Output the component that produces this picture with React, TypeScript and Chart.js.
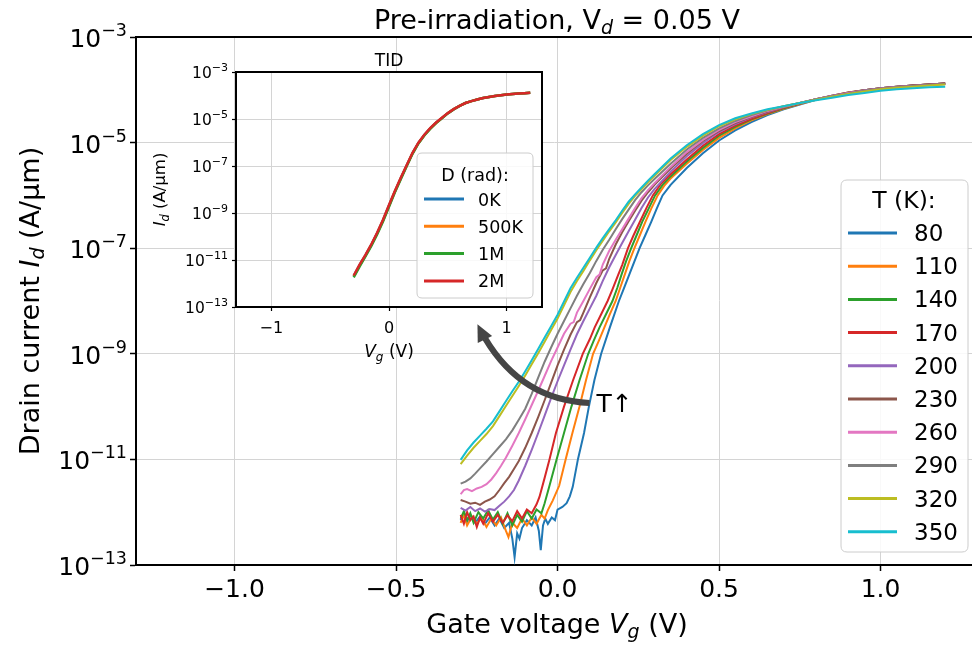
import React, { useEffect, useRef } from 'react';
import { Chart, registerables } from 'chart.js';
Chart.register(...registerables);

// ---------------- data (Vg in V, log10 of Id in A/µm) ----------------
const TEMPS = ['80', '110', '140', '170', '200', '230', '260', '290', '320', '350'];
const T_COLORS = ['#1f77b4', '#ff7f0e', '#2ca02c', '#d62728', '#9467bd', '#8c564b', '#e377c2', '#7f7f7f', '#bcbd22', '#17becf'];

const T80 = [[-0.30,-12.15],[-0.29,-12.02],[-0.28,-12.18],[-0.27,-12.05],[-0.255,-12.20],[-0.24,-12.08],[-0.225,-12.22],[-0.21,-12.10],[-0.195,-12.25],[-0.18,-12.12],[-0.165,-12.30],[-0.15,-12.20],[-0.14,-12.50],[-0.133,-12.85],[-0.125,-12.40],[-0.118,-12.50],[-0.11,-12.30],[-0.095,-12.15],[-0.08,-12.25],[-0.068,-12.10],[-0.058,-12.35],[-0.052,-12.72],[-0.045,-12.25],[-0.038,-12.12],[-0.03,-12.22],[-0.018,-12.10],[-0.008,-12.15],[0.00,-11.95],[0.015,-11.90],[0.028,-11.83],[0.038,-11.70],[0.047,-11.52],[0.063,-11.00],[0.082,-10.50],[0.097,-10.00],[0.114,-9.50],[0.135,-9.00],[0.162,-8.50],[0.19,-8.00],[0.206,-7.75],[0.222,-7.50],[0.238,-7.25],[0.254,-7.00],[0.272,-6.75],[0.29,-6.50],[0.307,-6.25],[0.325,-6.00],[0.35,-5.80],[0.40,-5.48],[0.45,-5.20],[0.50,-4.96],[0.55,-4.77],[0.60,-4.61],[0.65,-4.48],[0.70,-4.37],[0.75,-4.28],[0.80,-4.19],[0.85,-4.12],[0.90,-4.06],[0.95,-4.01],[1.00,-3.97],[1.05,-3.94],[1.10,-3.92],[1.15,-3.90],[1.20,-3.88]];
const T110 = [[-0.30,-12.20],[-0.29,-12.05],[-0.28,-12.25],[-0.265,-12.08],[-0.25,-12.22],[-0.235,-12.10],[-0.22,-12.28],[-0.205,-12.12],[-0.19,-12.25],[-0.175,-12.10],[-0.16,-12.35],[-0.152,-12.47],[-0.14,-12.20],[-0.125,-12.30],[-0.11,-12.12],[-0.095,-12.25],[-0.08,-12.10],[-0.065,-12.22],[-0.05,-12.05],[-0.04,-12.12],[-0.03,-11.96],[-0.015,-11.78],[0.005,-11.50],[0.025,-11.00],[0.046,-10.50],[0.068,-10.00],[0.088,-9.50],[0.11,-9.00],[0.128,-8.75],[0.145,-8.50],[0.162,-8.25],[0.18,-8.00],[0.194,-7.75],[0.208,-7.50],[0.222,-7.25],[0.238,-7.00],[0.255,-6.75],[0.272,-6.50],[0.29,-6.25],[0.31,-6.00],[0.33,-5.82],[0.35,-5.68],[0.40,-5.40],[0.45,-5.14],[0.50,-4.91],[0.55,-4.73],[0.60,-4.58],[0.65,-4.46],[0.70,-4.36],[0.75,-4.27],[0.80,-4.19],[0.85,-4.12],[0.90,-4.06],[0.95,-4.01],[1.00,-3.97],[1.05,-3.94],[1.10,-3.92],[1.15,-3.90],[1.20,-3.88]];
const T140 = [[-0.30,-12.12],[-0.29,-11.98],[-0.28,-12.15],[-0.27,-12.02],[-0.26,-12.20],[-0.245,-12.00],[-0.23,-12.12],[-0.215,-11.96],[-0.20,-12.14],[-0.185,-12.00],[-0.17,-12.22],[-0.155,-12.02],[-0.14,-12.25],[-0.125,-12.05],[-0.11,-12.18],[-0.095,-11.98],[-0.08,-12.12],[-0.065,-11.95],[-0.05,-12.02],[-0.04,-11.83],[-0.025,-11.50],[-0.003,-11.00],[0.02,-10.50],[0.043,-10.00],[0.068,-9.50],[0.095,-9.00],[0.112,-8.75],[0.13,-8.50],[0.15,-8.25],[0.17,-8.00],[0.185,-7.75],[0.198,-7.50],[0.212,-7.25],[0.228,-7.00],[0.245,-6.75],[0.262,-6.50],[0.282,-6.25],[0.302,-6.00],[0.325,-5.80],[0.35,-5.64],[0.40,-5.36],[0.45,-5.10],[0.50,-4.87],[0.55,-4.70],[0.60,-4.56],[0.65,-4.45],[0.70,-4.35],[0.75,-4.26],[0.80,-4.18],[0.85,-4.11],[0.90,-4.05],[0.95,-4.01],[1.00,-3.97],[1.05,-3.94],[1.10,-3.92],[1.15,-3.90],[1.20,-3.88]];
const T170 = [[-0.30,-12.05],[-0.29,-12.22],[-0.28,-12.00],[-0.27,-12.15],[-0.26,-12.08],[-0.25,-12.28],[-0.24,-12.10],[-0.23,-12.22],[-0.215,-12.02],[-0.20,-12.18],[-0.185,-12.05],[-0.17,-12.20],[-0.155,-12.06],[-0.14,-12.17],[-0.125,-11.98],[-0.11,-12.12],[-0.095,-11.95],[-0.08,-12.02],[-0.065,-11.85],[-0.056,-11.71],[-0.04,-11.35],[-0.025,-11.00],[-0.005,-10.50],[0.02,-10.00],[0.048,-9.50],[0.078,-9.00],[0.10,-8.72],[0.115,-8.50],[0.135,-8.25],[0.155,-8.00],[0.17,-7.78],[0.188,-7.50],[0.20,-7.32],[0.218,-7.00],[0.235,-6.76],[0.255,-6.50],[0.275,-6.24],[0.295,-6.00],[0.32,-5.78],[0.35,-5.60],[0.40,-5.32],[0.45,-5.06],[0.50,-4.84],[0.55,-4.68],[0.60,-4.55],[0.65,-4.44],[0.70,-4.34],[0.75,-4.26],[0.80,-4.18],[0.85,-4.11],[0.90,-4.05],[0.95,-4.01],[1.00,-3.97],[1.05,-3.94],[1.10,-3.92],[1.15,-3.90],[1.20,-3.88]];
const T200 = [[-0.30,-11.92],[-0.285,-11.97],[-0.27,-11.90],[-0.255,-11.98],[-0.24,-11.93],[-0.225,-11.99],[-0.21,-11.94],[-0.195,-11.96],[-0.18,-11.88],[-0.165,-11.80],[-0.15,-11.70],[-0.135,-11.58],[-0.12,-11.40],[-0.10,-11.12],[-0.08,-10.82],[-0.06,-10.50],[-0.04,-10.17],[-0.02,-9.84],[0.00,-9.52],[0.02,-9.22],[0.04,-8.92],[0.06,-8.63],[0.08,-8.38],[0.10,-8.14],[0.12,-7.90],[0.14,-7.62],[0.16,-7.36],[0.18,-7.13],[0.20,-6.90],[0.22,-6.68],[0.24,-6.46],[0.26,-6.24],[0.28,-6.04],[0.30,-5.88],[0.35,-5.55],[0.40,-5.26],[0.45,-5.01],[0.50,-4.80],[0.55,-4.65],[0.60,-4.52],[0.65,-4.42],[0.70,-4.33],[0.75,-4.25],[0.80,-4.18],[0.85,-4.11],[0.90,-4.06],[0.95,-4.01],[1.00,-3.97],[1.05,-3.94],[1.10,-3.92],[1.15,-3.90],[1.20,-3.88]];
const T230 = [[-0.30,-11.77],[-0.285,-11.80],[-0.27,-11.84],[-0.255,-11.82],[-0.24,-11.86],[-0.225,-11.80],[-0.21,-11.76],[-0.195,-11.70],[-0.18,-11.58],[-0.165,-11.45],[-0.15,-11.33],[-0.135,-11.18],[-0.12,-11.03],[-0.10,-10.78],[-0.08,-10.50],[-0.06,-10.20],[-0.04,-9.88],[-0.02,-9.55],[0.00,-9.22],[0.02,-8.92],[0.04,-8.64],[0.06,-8.40],[0.07,-8.36],[0.08,-8.22],[0.10,-7.93],[0.12,-7.66],[0.14,-7.42],[0.15,-7.38],[0.16,-7.20],[0.18,-6.93],[0.20,-6.70],[0.22,-6.49],[0.24,-6.29],[0.26,-6.10],[0.28,-5.94],[0.30,-5.80],[0.35,-5.49],[0.40,-5.21],[0.45,-4.97],[0.50,-4.78],[0.55,-4.63],[0.60,-4.51],[0.65,-4.41],[0.70,-4.33],[0.75,-4.25],[0.80,-4.18],[0.85,-4.12],[0.90,-4.06],[0.95,-4.02],[1.00,-3.98],[1.05,-3.95],[1.10,-3.92],[1.15,-3.90],[1.20,-3.88]];
const T260 = [[-0.30,-11.66],[-0.29,-11.58],[-0.28,-11.56],[-0.265,-11.60],[-0.25,-11.55],[-0.235,-11.52],[-0.22,-11.47],[-0.205,-11.38],[-0.19,-11.26],[-0.175,-11.12],[-0.16,-10.97],[-0.14,-10.74],[-0.12,-10.50],[-0.10,-10.24],[-0.08,-9.97],[-0.06,-9.70],[-0.04,-9.42],[-0.02,-9.14],[0.00,-8.88],[0.02,-8.62],[0.04,-8.43],[0.05,-8.40],[0.06,-8.22],[0.08,-8.00],[0.10,-7.77],[0.12,-7.55],[0.13,-7.50],[0.14,-7.31],[0.16,-7.05],[0.18,-6.84],[0.20,-6.64],[0.22,-6.44],[0.24,-6.24],[0.26,-6.05],[0.28,-5.90],[0.30,-5.77],[0.35,-5.46],[0.40,-5.18],[0.45,-4.95],[0.50,-4.76],[0.55,-4.61],[0.60,-4.50],[0.65,-4.40],[0.70,-4.32],[0.75,-4.25],[0.80,-4.18],[0.85,-4.12],[0.90,-4.06],[0.95,-4.02],[1.00,-3.98],[1.05,-3.95],[1.10,-3.93],[1.15,-3.91],[1.20,-3.89]];
const T290 = [[-0.30,-11.46],[-0.285,-11.42],[-0.27,-11.36],[-0.255,-11.27],[-0.24,-11.17],[-0.22,-11.04],[-0.20,-10.90],[-0.18,-10.76],[-0.16,-10.62],[-0.14,-10.45],[-0.12,-10.25],[-0.10,-10.04],[-0.08,-9.76],[-0.06,-9.45],[-0.04,-9.15],[-0.02,-8.88],[0.00,-8.62],[0.02,-8.38],[0.04,-8.14],[0.06,-7.90],[0.08,-7.68],[0.10,-7.47],[0.12,-7.24],[0.14,-7.03],[0.16,-6.84],[0.18,-6.64],[0.20,-6.45],[0.22,-6.27],[0.24,-6.09],[0.26,-5.94],[0.28,-5.81],[0.30,-5.69],[0.35,-5.40],[0.40,-5.13],[0.45,-4.91],[0.50,-4.73],[0.55,-4.59],[0.60,-4.48],[0.65,-4.39],[0.70,-4.31],[0.75,-4.25],[0.80,-4.18],[0.85,-4.12],[0.90,-4.07],[0.95,-4.02],[1.00,-3.98],[1.05,-3.95],[1.10,-3.93],[1.15,-3.91],[1.20,-3.89]];
const T320 = [[-0.30,-11.09],[-0.28,-10.93],[-0.26,-10.78],[-0.24,-10.65],[-0.22,-10.52],[-0.20,-10.37],[-0.18,-10.18],[-0.16,-9.99],[-0.14,-9.80],[-0.12,-9.61],[-0.10,-9.41],[-0.08,-9.20],[-0.06,-8.99],[-0.04,-8.77],[-0.02,-8.55],[0.00,-8.33],[0.02,-8.08],[0.04,-7.83],[0.06,-7.62],[0.08,-7.43],[0.10,-7.23],[0.12,-7.04],[0.14,-6.86],[0.16,-6.68],[0.18,-6.51],[0.20,-6.33],[0.22,-6.16],[0.24,-6.01],[0.26,-5.88],[0.28,-5.75],[0.30,-5.63],[0.35,-5.33],[0.40,-5.08],[0.45,-4.87],[0.50,-4.69],[0.55,-4.56],[0.60,-4.46],[0.65,-4.38],[0.70,-4.31],[0.75,-4.25],[0.80,-4.19],[0.85,-4.13],[0.90,-4.08],[0.95,-4.03],[1.00,-3.99],[1.05,-3.96],[1.10,-3.94],[1.15,-3.92],[1.20,-3.90]];
const T350 = [[-0.30,-11.01],[-0.28,-10.83],[-0.26,-10.68],[-0.24,-10.55],[-0.22,-10.42],[-0.20,-10.28],[-0.18,-10.09],[-0.16,-9.90],[-0.14,-9.71],[-0.12,-9.53],[-0.10,-9.33],[-0.08,-9.12],[-0.06,-8.91],[-0.04,-8.69],[-0.02,-8.48],[0.00,-8.26],[0.02,-8.01],[0.04,-7.76],[0.06,-7.56],[0.08,-7.37],[0.10,-7.18],[0.12,-6.99],[0.14,-6.81],[0.16,-6.64],[0.18,-6.47],[0.20,-6.29],[0.22,-6.12],[0.24,-5.98],[0.26,-5.85],[0.28,-5.72],[0.30,-5.60],[0.35,-5.30],[0.40,-5.05],[0.45,-4.84],[0.50,-4.67],[0.55,-4.54],[0.60,-4.45],[0.65,-4.37],[0.70,-4.31],[0.75,-4.25],[0.80,-4.20],[0.85,-4.15],[0.90,-4.10],[0.95,-4.06],[1.00,-4.02],[1.05,-3.99],[1.10,-3.97],[1.15,-3.95],[1.20,-3.94]];
const MAIN_SERIES = [T80, T110, T140, T170, T200, T230, T260, T290, T320, T350];

const X_TICKS = [-1, -0.5, 0, 0.5, 1];
const X_TICK_LABELS = ['\u22121.0', '\u22120.5', '0.0', '0.5', '1.0'];
const Y_TICKS = [1e-3, 1e-5, 1e-7, 1e-9, 1e-11, 1e-13];
const Y_TICK_EXPS = ['\u22123', '\u22125', '\u22127', '\u22129', '\u221211', '\u221213'];

// inset (TID)
const DOSES = ['0K', '500K', '1M', '2M'];
const D_COLORS = ['#1f77b4', '#ff7f0e', '#2ca02c', '#d62728'];
const INSET_VG = [-0.30,-0.25,-0.20,-0.15,-0.10,-0.05,0.00,0.05,0.10,0.15,0.20,0.25,0.30,0.35,0.40,0.45,0.50,0.55,0.60,0.65,0.70,0.75,0.80,0.85,0.90,0.95,1.00,1.05,1.10,1.15,1.20];
const INSET_0K = [-11.68,-11.22,-10.80,-10.35,-9.85,-9.30,-8.68,-8.08,-7.52,-6.98,-6.45,-6.02,-5.68,-5.40,-5.16,-4.96,-4.75,-4.58,-4.44,-4.32,-4.24,-4.17,-4.11,-4.06,-4.02,-3.99,-3.96,-3.94,-3.92,-3.90,-3.88];
const INSET_500K = [-11.70,-11.24,-10.81,-10.36,-9.86,-9.31,-8.70,-8.09,-7.53,-6.99,-6.46,-6.03,-5.69,-5.41,-5.17,-4.96,-4.75,-4.58,-4.44,-4.32,-4.24,-4.17,-4.11,-4.06,-4.02,-3.99,-3.96,-3.94,-3.92,-3.90,-3.88];
const INSET_1M = [-11.74,-11.28,-10.85,-10.40,-9.90,-9.35,-8.74,-8.12,-7.56,-7.01,-6.48,-6.04,-5.70,-5.42,-5.17,-4.97,-4.76,-4.59,-4.44,-4.32,-4.24,-4.17,-4.11,-4.06,-4.02,-3.99,-3.96,-3.94,-3.92,-3.90,-3.88];
const INSET_2M = [-11.66,-11.20,-10.78,-10.33,-9.83,-9.28,-8.66,-8.06,-7.50,-6.97,-6.44,-6.01,-5.67,-5.39,-5.15,-4.95,-4.75,-4.58,-4.44,-4.32,-4.24,-4.17,-4.11,-4.06,-4.02,-3.99,-3.96,-3.94,-3.92,-3.90,-3.88];
const INSET_SERIES = [INSET_0K, INSET_500K, INSET_1M, INSET_2M];
const INSET_X_TICKS = [-1, 0, 1];
const INSET_X_LABELS = ['\u22121', '0', '1'];

// annotation (data coordinates: Vg, log10 Id)
const ARROW_TAIL = [0.099, -9.93];
const ARROW_CTRL = [-0.133, -9.875];
const ARROW_HEAD = [-0.248, -8.44];

// ---------------- drawing helpers ----------------
const FAMILY = '"DejaVu Sans", "Noto Sans", sans-serif';
type Part = { t: string; size: number; italic?: boolean; dy?: number };
const fontOf = (p: Part) => `${p.italic ? 'italic ' : ''}${p.size}px ${FAMILY}`;

function drawRich(ctx: CanvasRenderingContext2D, parts: Part[], x: number, y: number, align: 'left' | 'center' | 'right') {
  let w = 0;
  for (const p of parts) { ctx.font = fontOf(p); w += ctx.measureText(p.t).width; }
  let cx = align === 'left' ? x : align === 'center' ? x - w / 2 : x - w;
  ctx.textAlign = 'left';
  ctx.textBaseline = 'alphabetic';
  for (const p of parts) {
    ctx.font = fontOf(p);
    ctx.fillText(p.t, cx, y + (p.dy || 0));
    cx += ctx.measureText(p.t).width;
  }
}

function roundRect(ctx: CanvasRenderingContext2D, x: number, y: number, w: number, h: number, r: number) {
  ctx.beginPath();
  ctx.moveTo(x + r, y);
  ctx.lineTo(x + w - r, y);
  ctx.quadraticCurveTo(x + w, y, x + w, y + r);
  ctx.lineTo(x + w, y + h - r);
  ctx.quadraticCurveTo(x + w, y + h, x + w - r, y + h);
  ctx.lineTo(x + r, y + h);
  ctx.quadraticCurveTo(x, y + h, x, y + h - r);
  ctx.lineTo(x, y + r);
  ctx.quadraticCurveTo(x, y, x + r, y);
  ctx.closePath();
}

const mainDecor = {
  id: 'mainDecor',
  afterDraw(chart: any) {
    const { ctx, chartArea: a, scales } = chart;
    const xs = scales.x, ys = scales.y;
    const P = (pt: number[]) => [xs.getPixelForValue(pt[0]), ys.getPixelForValue(Math.pow(10, pt[1]))];
    ctx.save();
    ctx.fillStyle = '#000';
    ctx.strokeStyle = '#000';
    ctx.lineWidth = 2;
    ctx.beginPath();
    ctx.moveTo(a.left - 1, a.top);
    ctx.lineTo(a.right, a.top);
    ctx.stroke();

    Y_TICKS.forEach((v, i) => {
      const py = ys.getPixelForValue(v);
      drawRich(ctx, [{ t: '10', size: 25 }, { t: Y_TICK_EXPS[i], size: 17.5, dy: -11 }], a.left - 9, py + 10, 'right');
    });
    X_TICKS.forEach((v, i) => {
      drawRich(ctx, [{ t: X_TICK_LABELS[i], size: 25 }], xs.getPixelForValue(v), a.bottom + 32, 'center');
    });

    drawRich(ctx, [{ t: 'Pre-irradiation, V', size: 27 }, { t: 'd', size: 19, italic: true, dy: 5 }, { t: ' = 0.05 V', size: 27 }], 557, 29, 'center');
    drawRich(ctx, [{ t: 'Gate voltage ', size: 27 }, { t: 'V', size: 27, italic: true }, { t: 'g', size: 19, italic: true, dy: 5 }, { t: ' (V)', size: 27 }], 557, 633, 'center');
    ctx.save();
    ctx.translate(39, 301);
    ctx.rotate(-Math.PI / 2);
    drawRich(ctx, [{ t: 'Drain current ', size: 27 }, { t: 'I', size: 27, italic: true }, { t: 'd', size: 19, italic: true, dy: 5 }, { t: ' (A/\u03bcm)', size: 27 }], 0, 0, 'center');
    ctx.restore();

    // curved arrow
    const p0 = P(ARROW_TAIL), c = P(ARROW_CTRL), p2 = P(ARROW_HEAD);
    const t0 = 0.9;
    const c1 = [p0[0] + t0 * (c[0] - p0[0]), p0[1] + t0 * (c[1] - p0[1])];
    const bx = (1 - t0) * (1 - t0) * p0[0] + 2 * (1 - t0) * t0 * c[0] + t0 * t0 * p2[0];
    const by = (1 - t0) * (1 - t0) * p0[1] + 2 * (1 - t0) * t0 * c[1] + t0 * t0 * p2[1];
    ctx.strokeStyle = '#454545';
    ctx.fillStyle = '#454545';
    ctx.lineWidth = 6;
    ctx.lineCap = 'butt';
    ctx.beginPath();
    ctx.moveTo(p0[0], p0[1]);
    ctx.quadraticCurveTo(c1[0], c1[1], bx, by);
    ctx.stroke();
    let dx = p2[0] - c[0], dy = p2[1] - c[1];
    const len = Math.hypot(dx, dy);
    dx /= len; dy /= len;
    const hl = 17, hw = 8;
    const bsx = p2[0] - dx * hl, bsy = p2[1] - dy * hl;
    ctx.beginPath();
    ctx.moveTo(p2[0], p2[1]);
    ctx.lineTo(bsx - dy * hw, bsy + dx * hw);
    ctx.lineTo(bsx + dy * hw, bsy - dx * hw);
    ctx.closePath();
    ctx.fill();
    ctx.fillStyle = '#000';
    drawRich(ctx, [{ t: 'T\u2191', size: 25 }], p0[0] + 7, p0[1] + 9, 'left');

    // legend
    const lx = 841, ly = 180, lw = 127, lh = 372;
    roundRect(ctx, lx, ly, lw, lh, 6);
    ctx.fillStyle = 'rgba(255,255,255,0.85)';
    ctx.fill();
    ctx.strokeStyle = '#cccccc';
    ctx.lineWidth = 1;
    ctx.stroke();
    ctx.fillStyle = '#000';
    drawRich(ctx, [{ t: 'T (K):', size: 23.5 }], lx + 63, ly + 28, 'center');
    TEMPS.forEach((t, i) => {
      const yy = ly + 53 + i * 33.2;
      ctx.strokeStyle = T_COLORS[i];
      ctx.lineWidth = 3;
      ctx.beginPath();
      ctx.moveTo(lx + 7, yy);
      ctx.lineTo(lx + 56, yy);
      ctx.stroke();
      ctx.fillStyle = '#000';
      drawRich(ctx, [{ t, size: 23 }], lx + 73, yy + 8, 'left');
    });
    ctx.restore();
  },
};

const insetDecor = {
  id: 'insetDecor',
  beforeDraw(chart: any) {
    const { ctx, chartArea: a } = chart;
    ctx.save();
    ctx.fillStyle = '#fff';
    ctx.fillRect(a.left, a.top, a.right - a.left, a.bottom - a.top);
    ctx.restore();
  },
  afterDraw(chart: any) {
    const { ctx, chartArea: a, scales } = chart;
    const xs = scales.x, ys = scales.y;
    ctx.save();
    ctx.strokeStyle = '#000';
    ctx.fillStyle = '#000';
    ctx.lineWidth = 2;
    ctx.beginPath();
    ctx.moveTo(a.left - 1, a.top);
    ctx.lineTo(a.right, a.top);
    ctx.lineTo(a.right, a.bottom + 1);
    ctx.stroke();

    Y_TICKS.forEach((v, i) => {
      const py = ys.getPixelForValue(v);
      drawRich(ctx, [{ t: '10', size: 15.5 }, { t: Y_TICK_EXPS[i], size: 11, dy: -7 }], a.left - 8, py + 6, 'right');
    });
    INSET_X_TICKS.forEach((v, i) => {
      drawRich(ctx, [{ t: INSET_X_LABELS[i], size: 16 }], xs.getPixelForValue(v), a.bottom + 26, 'center');
    });
    const mid = (a.left + a.right) / 2;
    drawRich(ctx, [{ t: 'TID', size: 17 }], mid, a.top - 6, 'center');
    drawRich(ctx, [{ t: 'V', size: 17, italic: true }, { t: 'g', size: 12, italic: true, dy: 3.5 }, { t: ' (V)', size: 17 }], mid, a.bottom + 50, 'center');
    ctx.save();
    ctx.translate(a.left - 71, (a.top + a.bottom) / 2);
    ctx.rotate(-Math.PI / 2);
    drawRich(ctx, [{ t: 'I', size: 16.5, italic: true }, { t: 'd', size: 11.5, italic: true, dy: 3.5 }, { t: ' (A/\u03bcm)', size: 16.5 }], 0, 0, 'center');
    ctx.restore();

    // legend
    const lx = a.left + 181, ly = a.top + 81, lw = 116, lh = 145;
    roundRect(ctx, lx, ly, lw, lh, 5);
    ctx.fillStyle = 'rgba(255,255,255,0.85)';
    ctx.fill();
    ctx.strokeStyle = '#cccccc';
    ctx.lineWidth = 1;
    ctx.stroke();
    ctx.fillStyle = '#000';
    drawRich(ctx, [{ t: 'D (rad):', size: 17.5 }], lx + 58, ly + 28, 'center');
    DOSES.forEach((d, i) => {
      const yy = ly + 46 + i * 27.3;
      ctx.strokeStyle = D_COLORS[i];
      ctx.lineWidth = 3;
      ctx.beginPath();
      ctx.moveTo(lx + 7, yy);
      ctx.lineTo(lx + 47, yy);
      ctx.stroke();
      ctx.fillStyle = '#000';
      drawRich(ctx, [{ t: d, size: 17.5 }], lx + 61, yy + 6.5, 'left');
    });
    ctx.restore();
  },
};

const GRID = '#d4d4d4';

export default function App() {
  const mainRef = useRef<HTMLCanvasElement | null>(null);
  const insetRef = useRef<HTMLCanvasElement | null>(null);

  useEffect(() => {
    document.body.style.margin = '0';
    const mainChart = new Chart(mainRef.current as HTMLCanvasElement, {
      type: 'line',
      data: {
        datasets: MAIN_SERIES.map((s, i) => ({
          label: TEMPS[i],
          data: s.map(([v, l]) => ({ x: v, y: Math.pow(10, l) })),
          borderColor: T_COLORS[i],
          borderWidth: 2,
          pointRadius: 0,
          fill: false,
          tension: 0,
          order: MAIN_SERIES.length - 1 - i,
        })),
      },
      options: {
        animation: false,
        responsive: false,
        devicePixelRatio: 1,
        events: [],
        layout: { padding: { top: 37, right: 0, left: 0, bottom: 0 } },
        plugins: { legend: { display: false }, title: { display: false }, tooltip: { enabled: false } },
        scales: {
          x: {
            type: 'linear',
            min: -1.305,
            max: 1.283,
            afterBuildTicks: (s: any) => { s.ticks = X_TICKS.map((value) => ({ value })); },
            afterFit: (s: any) => { s.height = 80; },
            ticks: { display: false },
            grid: { color: GRID, lineWidth: 1, drawTicks: true, tickLength: 6, tickColor: '#000', tickWidth: 1.5 },
            border: { color: '#000', width: 2 },
          },
          y: {
            type: 'logarithmic',
            min: 1e-13,
            max: 1e-3,
            afterBuildTicks: (s: any) => { s.ticks = Y_TICKS.map((value) => ({ value })); },
            afterFit: (s: any) => { s.width = 136; },
            ticks: { display: false },
            grid: { color: GRID, lineWidth: 1, drawTicks: true, tickLength: 6, tickColor: '#000', tickWidth: 1.5 },
            border: { color: '#000', width: 2 },
          },
        },
      } as any,
      plugins: [mainDecor],
    });

    const insetChart = new Chart(insetRef.current as HTMLCanvasElement, {
      type: 'line',
      data: {
        datasets: INSET_SERIES.map((s, i) => ({
          label: DOSES[i],
          data: s.map((l, k) => ({ x: INSET_VG[k], y: Math.pow(10, l) })),
          borderColor: D_COLORS[i],
          borderWidth: 2.5,
          pointRadius: 0,
          fill: false,
          tension: 0,
          order: INSET_SERIES.length - 1 - i,
        })),
      },
      options: {
        animation: false,
        responsive: false,
        devicePixelRatio: 1,
        events: [],
        layout: { padding: { top: 32, right: 8, left: 0, bottom: 0 } },
        plugins: { legend: { display: false }, title: { display: false }, tooltip: { enabled: false } },
        scales: {
          x: {
            type: 'linear',
            min: -1.3,
            max: 1.3,
            afterBuildTicks: (s: any) => { s.ticks = INSET_X_TICKS.map((value) => ({ value })); },
            afterFit: (s: any) => { s.height = 63; },
            ticks: { display: false },
            grid: { color: GRID, lineWidth: 1, drawTicks: true, tickLength: 4, tickColor: '#000', tickWidth: 1.2 },
            border: { color: '#000', width: 2 },
          },
          y: {
            type: 'logarithmic',
            min: 1e-13,
            max: 1e-3,
            afterBuildTicks: (s: any) => { s.ticks = Y_TICKS.map((value) => ({ value })); },
            afterFit: (s: any) => { s.width = 96; },
            ticks: { display: false },
            grid: { color: GRID, lineWidth: 1, drawTicks: true, tickLength: 4, tickColor: '#000', tickWidth: 1.2 },
            border: { color: '#000', width: 2 },
          },
        },
      } as any,
      plugins: [insetDecor],
    });

    return () => {
      mainChart.destroy();
      insetChart.destroy();
    };
  }, []);

  return (
    <div style={{ position: 'relative', width: 972, height: 645, background: '#fff', overflow: 'hidden' }}>
      <canvas ref={mainRef} width={972} height={645} style={{ position: 'absolute', left: 0, top: 0 }} />
      <canvas ref={insetRef} width={410} height={330} style={{ position: 'absolute', left: 140, top: 40 }} />
    </div>
  );
}
